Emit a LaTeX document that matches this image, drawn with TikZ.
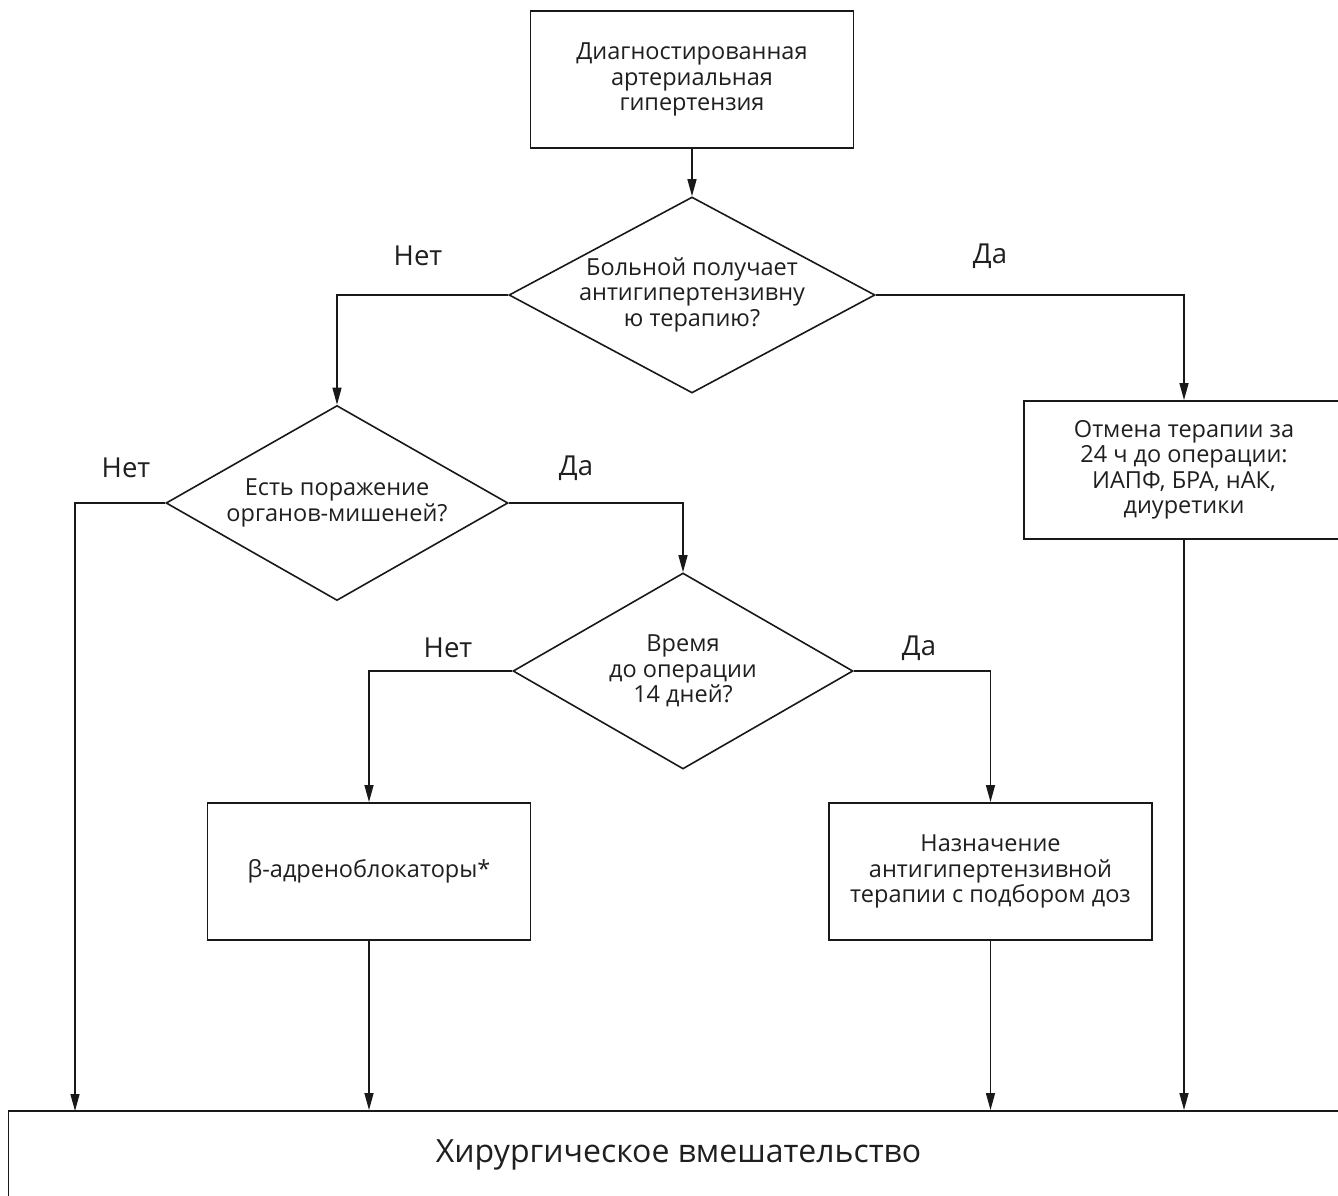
\documentclass[tikz,border=0pt]{standalone}
\usepackage{fontspec}
\setmainfont{Open Sans}
\usetikzlibrary{
    arrows.meta,
    positioning,
    shapes.geometric
}
\tikzset{
    % Arrows
    arrow tip/.tip={Triangle[length=17pt,width=9pt]},
    arr/.style={->,>={arrow tip},line width=1.4pt,draw=black!90},
    %
    % Nodes
    step box/.style={rectangle,draw=black!90,line width=1.9pt,align=center,minimum width=323pt,minimum height=137pt},
    decision/.style={diamond,draw=black!90,line width=1.6pt,align=center,inner sep=-40pt},
    answer/.style={font=\fontsize{27.5}{30}\selectfont}
}
\begin{document}
\begin{tikzpicture}
        [
            x=1pt,y=-1pt,
            every node/.style={font=\fontsize{23.5}{25.5}\selectfont,text=black!88}
        ]
        \useasboundingbox (0,0) rectangle (1338,1196);
        \node[step box] (diag) at (692,79.5) {Диагностированная\\артериальная\\гипертензия};
        \node[decision, minimum width=366pt, minimum height=196pt] (therapy) at (692,295) {\\[-8pt]Больной получает\\антигипертензивну\\ю терапию?};
        \node[step box, minimum width=320pt, minimum height=138pt] (cancel) at (1184,470) {Отмена терапии за\\24 ч до операции:\\ИАПФ, БРА, нАК,\\диуретики};
        \node[decision, minimum width=342pt, minimum height=195pt] (organs) at (337,503) {Есть поражение\\органов-мишеней?};
        \node[decision, minimum width=340pt, minimum height=196pt] (time) at (683,671) {Время\\до операции\\14 дней?};
        \node[step box] (beta) at (369,871.5) {β-адреноблокаторы*};
        \node[step box] (dose) at (990.5,871.5) {Назначение\\антигипертензивной\\терапии с подбором доз};
        \node[step box, minimum width=1340pt, minimum height=88pt, font=\fontsize{32}{36}\selectfont] (surgery) at (678.5,1155) {Хирургическое вмешательство};
        \coordinate (skip) at (75,1111);
        % answers
        \node[answer] (no1) at (418,256) {Нет};
        \node[answer] (yes1) at (990,256) {Да};
        \node[answer] (no2) at (126,468) {Нет};
        \node[answer] (yes2) at (576,468) {Да};
        \node[answer] (no3) at (448,648) {Нет};
        \node[answer] (yes3) at (919,648) {Да};
        % connectors
        \draw[arr] (diag) -- (therapy);
        \draw[arr] (therapy.west) -| (organs.north);
        \draw[arr] (therapy.east) -| (cancel.north);
        \draw[arr] (organs.west) -| (skip);
        \draw[arr] (organs.east) -| (time.north);
        \draw[arr] (time.west) -| (beta.north);
        \draw[arr] (time.east) -| (dose.north);
        \draw[arr] (beta) -- (beta |- surgery.north);
        \draw[arr] (dose) -- (dose |- surgery.north);
        \draw[arr] (cancel) -- (cancel |- surgery.north);
    \end{tikzpicture}
\end{document}
